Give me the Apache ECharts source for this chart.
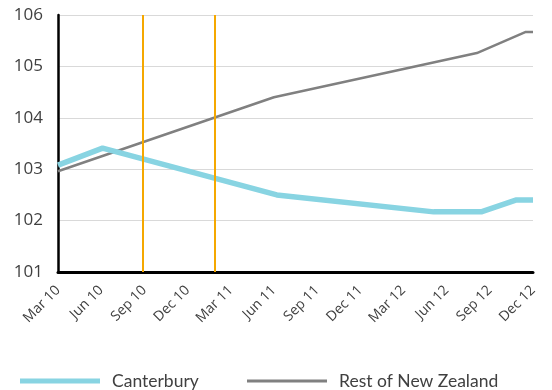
<!DOCTYPE html>
<html>
<head>
<meta charset="utf-8">
<script src="https://cdn.jsdelivr.net/npm/echarts@6/dist/echarts.min.js"></script>
<style>html,body{margin:0;padding:0;background:#fff}#c{width:552px;height:390px}</style>
</head>
<body>
<div id="c"></div>
<script>
// x values are months since Mar 2010
var tickLabels = ['Mar 10','Jun 10','Sep 10','Dec 10','Mar 11','Jun 11','Sep 11','Dec 11','Mar 12','Jun 12','Sep 12','Dec 12'];
var canterburyMonths = [0, 3.1, 15.2, 26.1, 29.4, 31.8, 33];
var canterburyValues = [103.08, 103.41, 102.50, 102.17, 102.17, 102.40, 102.40];
var restMonths = [0, 15, 29.1, 32.5, 33];
var restValues = [102.96, 104.40, 105.26, 105.67, 105.67];
var quakeMonths = [5.9, 10.9];

function pairs(xs, ys){ return xs.map(function(x,i){ return [x, ys[i]]; }); }

var chart = echarts.init(document.getElementById('c'), null, {renderer:'canvas'});
var FONT = 'Open Sans';
chart.setOption({
  animation: false,
  backgroundColor: '#ffffff',
  grid: { left: 58, right: 19, top: 15, bottom: 118 },
  legend: [
    { data: [{name:'Canterbury', icon:'rect'}], left: 20, top: 372, padding: 0, itemWidth: 80, itemHeight: 5, itemGap: 0,
      textStyle: { fontFamily: 'Lato', fontSize: 17.5, color: '#404040', padding: [0,0,0,7] } },
    { data: [{name:'Rest of New Zealand', icon:'rect'}], left: 247, top: 372, padding: 0, itemWidth: 80, itemHeight: 3, itemGap: 0,
      textStyle: { fontFamily: 'Lato', fontSize: 17.5, color: '#404040', padding: [0,0,0,7] } }
  ],
  xAxis: {
    type: 'value', min: 0, max: 33, interval: 3,
    axisLine: { show: true, lineStyle: { color: '#000', width: 3 } },
    axisTick: { show: false },
    splitLine: { show: false },
    axisLabel: { rotate: 45, margin: 16, fontFamily: FONT, fontSize: 14, color: '#404040',
      formatter: function(v){ return tickLabels[Math.round(v/3)] || ''; } }
  },
  yAxis: {
    type: 'value', min: 101, max: 106, interval: 1,
    axisLine: { show: true, lineStyle: { color: '#000', width: 2.5 } },
    axisTick: { show: false },
    splitLine: { show: true, lineStyle: { color: '#d9d9d9', width: 1 } },
    axisLabel: { margin: 15, fontFamily: FONT, fontSize: 17, color: '#404040' }
  },
  series: [
    { name: 'Rest of New Zealand', type: 'line', data: pairs(restMonths, restValues), symbol: 'none',
      lineStyle: { color: '#808080', width: 2.5 }, itemStyle: { color: '#808080' },
      markLine: { silent: true, symbol: 'none', label: { show: false },
        lineStyle: { color: '#F5A800', width: 2, type: 'solid' },
        data: quakeMonths.map(function(m){ return { xAxis: m }; }) } },
    { name: 'Canterbury', type: 'line', data: pairs(canterburyMonths, canterburyValues), symbol: 'none',
      lineStyle: { color: '#88D4E2', width: 5.5 }, itemStyle: { color: '#88D4E2' } }
  ]
});
</script>
</body>
</html>
